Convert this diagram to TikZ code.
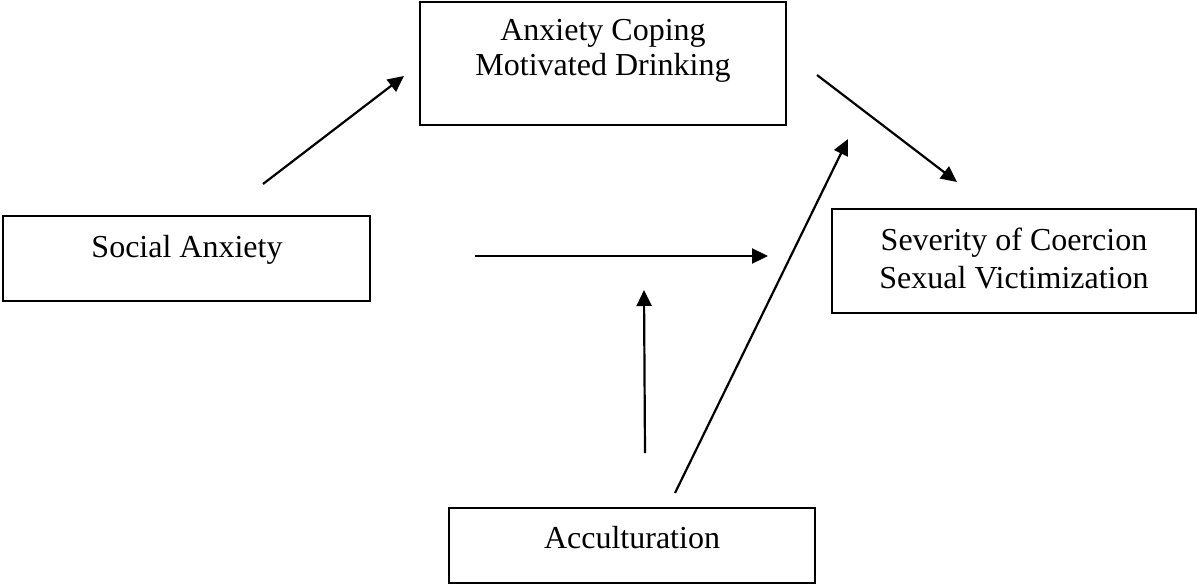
\documentclass[tikz,border=0pt]{standalone}
\usepackage{fontspec}
\setmainfont{Liberation Serif}
\usetikzlibrary{arrows.meta}
\begin{document}
\begin{tikzpicture}[x=1pt,y=-1pt,
  box/.style={draw=black,line width=1.6pt,rectangle,inner sep=0pt},
  lbl/.style={anchor=base,inner sep=0pt,font=\fontsize{32}{37}\selectfont},
  arr/.style={line width=2.2pt,-{Triangle[length=16pt,width=15pt]}}]
\useasboundingbox (0,0) rectangle (1197,584);
% boxes
\node[box,minimum width=366pt,minimum height=123pt] (coping) at (603,63.5) {};
\node[box,minimum width=367pt,minimum height=85pt] (social) at (186.5,258.5) {};
\node[box,minimum width=364pt,minimum height=104pt] (sev) at (1014,261) {};
\node[box,minimum width=366pt,minimum height=75pt] (acc) at (632,545.5) {};
% labels
\node[lbl] (copa) at (603,40) {Anxiety Coping};
\node[lbl] (copb) at (603,75) {Motivated Drinking};
\node[lbl] (soc) at (187,257) {Social Anxiety};
\node[lbl] (seva) at (1014,250) {Severity of Coercion};
\node[lbl] (sevb) at (1014,288) {Sexual Victimization};
\node[lbl] (acct) at (632,548) {Acculturation};
% arrow end points
\coordinate (a1s) at (263,184);
\coordinate (a1e) at (404,76);
\coordinate (a2s) at (817,75);
\coordinate (a2e) at (957,182);
\coordinate (a3s) at (475,256);
\coordinate (a3e) at (768,256);
\coordinate (a4s) at (645,453);
\coordinate (a4e) at (644,290);
\coordinate (a5s) at (675,493);
\coordinate (a5e) at (848,139);
\draw[arr] (a1s) -- (a1e);
\draw[arr] (a2s) -- (a2e);
\draw[arr] (a3s) -- (a3e);
\draw[arr] (a4s) -- (a4e);
\draw[arr] (a5s) -- (a5e);
\end{tikzpicture}
\end{document}
